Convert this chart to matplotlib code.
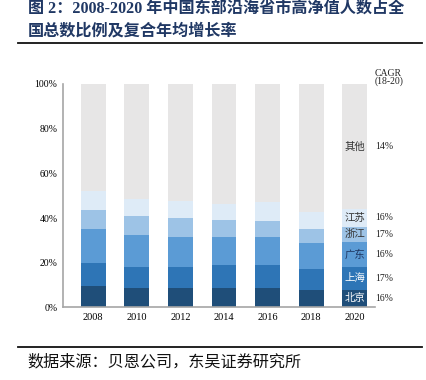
import numpy as np
import matplotlib
matplotlib.use('Agg')
from matplotlib import pyplot as plt

plt.rcParams['font.family'] = ['Liberation Serif', 'Noto Sans CJK SC', 'DejaVu Sans']

# share of national HNWI count (%)
years = ['2008', '2010', '2012', '2014', '2016', '2018', '2020']
beijing = [9.4, 8.5, 8.5, 8.9, 8.5, 8.0, 8.0]
shanghai = [10.4, 9.4, 9.5, 9.9, 10.7, 9.4, 10.3]
guangdong = [15.1, 14.4, 13.4, 12.6, 12.2, 11.4, 10.8]
zhejiang = [8.8, 8.4, 8.4, 7.6, 7.2, 6.5, 7.1]
jiangsu = [8.6, 7.7, 8.0, 7.3, 8.8, 7.5, 7.8]
regions = ['北京', '上海', '广东', '浙江', '江苏', '其他']
cagr = ['16%', '17%', '16%', '17%', '16%', '14%']

colors = ['#1F4E79', '#2E75B6', '#5B9BD5', '#9DC3E6', '#DEEBF7', '#E7E6E6']
text_colors = ['white', 'white', '#1F3864', '#333333', '#333333', '#333333']

series = [beijing, shanghai, guangdong, zhejiang, jiangsu]
others = [100 - sum(v) for v in zip(*series)]
series.append(others)

fig = plt.figure(figsize=(4.27, 3.80), dpi=100)
ax = fig.add_axes([0.1475, 0.191, 0.7305, 0.588])

x = np.arange(len(years))
bottom = np.zeros(len(years))
for i, vals in enumerate(series):
    vals = np.array(vals)
    ax.bar(x, vals, width=0.57, bottom=bottom, color=colors[i], edgecolor='none')
    # labels inside the last bar plus CAGR to the right
    if i == len(series) - 1:
        ymid = 72
    else:
        ymid = bottom[-1] + vals[-1] / 2
    ax.text(x[-1], ymid, regions[i], ha='center', va='center', fontsize=7.5,
            color=text_colors[i])
    ax.text(x[-1] + 0.46, ymid, cagr[i], ha='left', va='center', fontsize=7,
            color='#222222', clip_on=False)
    bottom += vals

ax.text(x[-1] + 0.46, 103, 'CAGR\n(18-20)', ha='left', va='center', fontsize=7,
        color='#222222', linespacing=0.85, clip_on=False)

ax.set_xlim(-0.69, 6.46)
ax.set_ylim(0, 100)
ax.set_xticks(x)
ax.set_xticklabels(years, fontsize=7.5)
ax.set_yticks(np.arange(0, 101, 20))
ax.set_yticklabels([str(v) + '%' for v in range(0, 101, 20)], fontsize=7)
ax.tick_params(length=0, pad=4)
for s in ['top', 'right']:
    ax.spines[s].set_visible(False)
for s in ['left', 'bottom']:
    ax.spines[s].set_color('#A6A6A6')
    ax.spines[s].set_linewidth(1.2)

# title, rules and source
fig.text(28 / 427, 1 - 9 / 380, '图 2：2008-2020 年中国东部沿海省市高净值人数占全',
         fontsize=11.6, fontweight='bold', color='#203864', va='center', ha='left')
fig.text(28 / 427, 1 - 31 / 380, '国总数比例及复合年均增长率',
         fontsize=11.6, fontweight='bold', color='#203864', va='center', ha='left')
fig.add_artist(plt.Line2D([18 / 427, 422 / 427], [1 - 43 / 380] * 2, color='#111111', lw=1.3))
fig.add_artist(plt.Line2D([18 / 427, 422 / 427], [1 - 347 / 380] * 2, color='#111111', lw=1.3))
fig.text(27 / 427, 1 - 362 / 380, '数据来源：贝恩公司，东吴证券研究所',
         fontsize=11.6, color='#111111', va='center', ha='left')

plt.savefig('out.png', dpi=100)
